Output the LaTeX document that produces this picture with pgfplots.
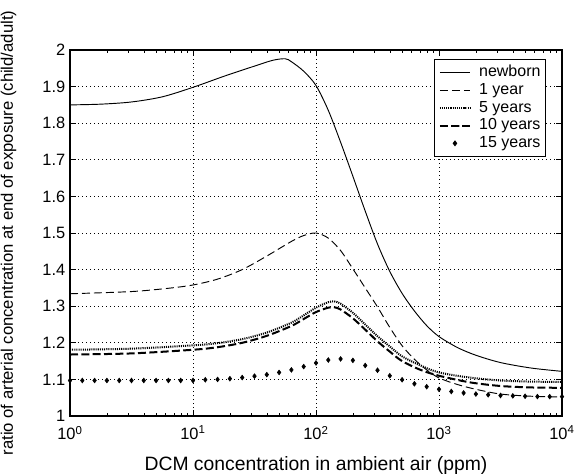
\documentclass[border=0pt]{standalone}
\usepackage{pgfplots}
\pgfplotsset{compat=1.18}
\usepackage{fontspec}
\setmainfont{Liberation Sans}
\begin{document}
\begin{tikzpicture}
\begin{axis}[name=ax,
  scale only axis, width=369pt, height=274.5pt,
  xmode=log, xmin=1, xmax=10000, ymin=1, ymax=2,
  xtick={1,10,100,1000,10000},
  xticklabels={10\textsuperscript{0},10\textsuperscript{1},10\textsuperscript{2},10\textsuperscript{3},10\textsuperscript{4}},
  ytick={1,1.1,1.2,1.3,1.4,1.5,1.6,1.7,1.8,1.9,2},
  yticklabels={1,1.1,1.2,1.3,1.4,1.5,1.6,1.7,1.8,1.9,2},
  tick label style={font=\fontsize{12.3}{14}\selectfont},
  xticklabel style={yshift=-4pt},
  grid=major,
  major grid style={black, line width=0.5pt, dash pattern=on 0.6pt off 2.4pt},
  tick align=inside, tickpos=both,
  major tick length=4.5pt, minor tick length=2.3pt,
  every tick/.style={black, line width=0.6pt},
  axis line style={line width=0.9pt},
  xlabel={DCM concentration in ambient air (ppm)},
  ylabel={ratio of arterial concentration at end of exposure (child/adult)},
  every axis x label/.style={at={(axis description cs:0.5,-0.134)}, anchor=center, font=\fontsize{14.5}{16}\selectfont},
  every axis y label/.style={at={(axis description cs:-0.125,0.5)}, anchor=center, rotate=90, font=\fontsize{12.5}{14}\selectfont},
  legend style={at={(rel axis cs:0.968,0.975)}, anchor=north east, draw=black, line width=0.6pt, fill=white,
     font=\fontsize{12}{13}\selectfont, row sep=0pt, column sep=5pt, inner sep=3pt,
     nodes={inner sep=1pt, text height=8.8pt, text depth=2.5pt}},
  legend cell align=left,
  legend image code/.code={\draw[mark repeat=2,mark phase=2] plot coordinates {(0cm,0cm) (0.4cm,0cm) (0.8cm,0cm)};},
]
% newborn
\addplot[black, line width=0.7pt, smooth, tension=0.5] coordinates {
(1,1.850) (1.778,1.852) (3.162,1.858) (5.623,1.872) (10,1.898) (17.78,1.928) (31.62,1.956) (44.67,1.972)
(56.23,1.976) (63.10,1.968) (79.43,1.942) (100,1.903) (125.9,1.835) (158.5,1.748) (199.5,1.655) (251.2,1.560)
(316.2,1.470) (398.1,1.395) (501.2,1.335) (631.0,1.287) (794.3,1.247) (1000,1.217) (1413,1.187) (1995,1.166)
(3162,1.146) (5623,1.131) (10000,1.122)};
\addlegendentry{newborn}
% 1 year
\addplot[black, line width=0.7pt, dash pattern=on 6pt off 3pt, smooth, tension=0.5] coordinates {
(1,1.334) (3.162,1.340) (6.310,1.349) (10,1.358) (15.85,1.374) (25.12,1.400) (39.81,1.437) (63.10,1.477)
(79.43,1.493) (100,1.500) (125.9,1.486) (158.5,1.452) (199.5,1.402) (251.2,1.350) (316.2,1.298) (398.1,1.242)
(501.2,1.192) (631.0,1.155) (794.3,1.126) (1000,1.104) (1413,1.086) (1995,1.073) (3162,1.060) (5623,1.054) (10000,1.052)};
\addlegendentry{1 year}
% 5 years
\addplot[black, line width=1.5pt, dash pattern=on 0.8pt off 0.8pt, smooth, tension=0.5] coordinates {
(1,1.181) (3.162,1.184) (10,1.193) (15.85,1.199) (25.12,1.210) (39.81,1.228) (63.10,1.255) (79.43,1.275)
(100,1.296) (125.9,1.311) (141.3,1.313) (158.5,1.307) (199.5,1.282) (251.2,1.250) (316.2,1.218) (398.1,1.190)
(501.2,1.163) (707.9,1.138) (1000,1.119) (1778,1.105) (3162,1.097) (5623,1.094) (10000,1.093)};
\addlegendentry{5 years}
% 10 years
\addplot[black, line width=1.5pt, dash pattern=on 6pt off 2.5pt, smooth, tension=0.5] coordinates {
(1,1.168) (3.162,1.171) (10,1.181) (15.85,1.188) (25.12,1.200) (39.81,1.219) (63.10,1.246) (79.43,1.265)
(100,1.284) (125.9,1.296) (141.3,1.297) (158.5,1.291) (199.5,1.267) (251.2,1.236) (316.2,1.204) (398.1,1.176)
(501.2,1.150) (707.9,1.126) (1000,1.110) (1778,1.092) (3162,1.082) (5623,1.078) (10000,1.077)};
\addlegendentry{10 years}
% 15 years
\addplot[black, only marks, mark=diamond*, mark size=1.8pt] coordinates {
(1,1.097) (1.259,1.097) (1.585,1.097) (1.995,1.097) (2.512,1.097) (3.162,1.097) (3.981,1.097) (5.012,1.097)
(6.310,1.097) (7.943,1.097) (10,1.097) (12.59,1.099) (15.85,1.100) (19.95,1.102) (25.12,1.105) (31.62,1.109)
(39.81,1.113) (50.12,1.119) (63.10,1.126) (79.43,1.135) (100,1.145) (125.9,1.153) (158.5,1.156) (199.5,1.152)
(251.2,1.138) (316.2,1.125) (398.1,1.110) (501.2,1.099) (631.0,1.088) (794.3,1.080) (1000,1.073) (1259,1.067)
(1585,1.063) (1995,1.060) (2512,1.058) (3162,1.056) (3981,1.055) (5012,1.054) (6310,1.053) (7943,1.053) (10000,1.053)};
\addlegendentry{15 years}
\end{axis}
\pgfresetboundingbox
\path[use as bounding box] ([shift={(-52.5pt,-43.5pt)}]ax.south west) rectangle ([shift={(10.5pt,37.5pt)}]ax.north east);
\end{tikzpicture}
\end{document}
